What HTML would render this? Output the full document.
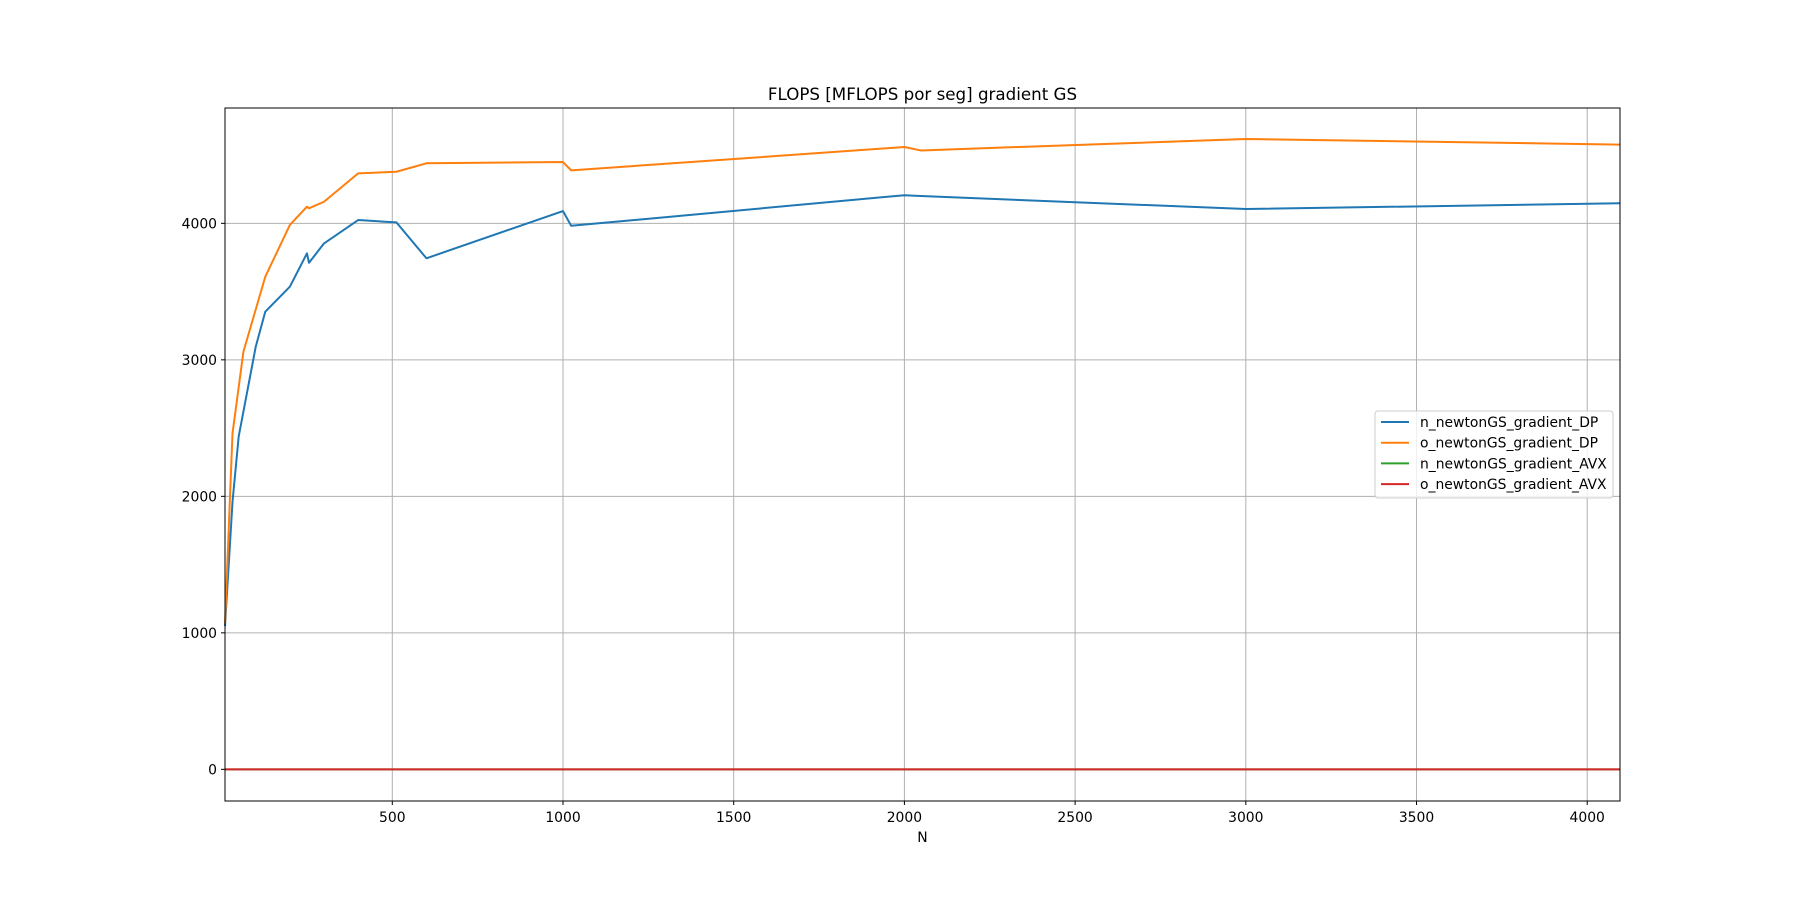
<!DOCTYPE html>
<html><head><meta charset="utf-8"><style>
body{margin:0;background:#fff}
svg text{font-family:"DejaVu Sans","Liberation Sans",sans-serif;fill:#000}
</style></head><body>
<svg id="chart" width="1800" height="900" xmlns="http://www.w3.org/2000/svg">
<rect width="1800" height="900" fill="#fff"/>
<g id="grid"></g>
<g id="series"></g>
<rect x="225" y="108" width="1395" height="693" fill="none" stroke="#000" stroke-width="1"/>
<g id="ticks"></g>
<text x="922.5" y="100" font-size="16.7" text-anchor="middle">FLOPS [MFLOPS por seg] gradient GS</text>
<text x="922.5" y="842" font-size="13.9" text-anchor="middle">N</text>
<g>
<rect x="1375" y="411" width="238" height="87" rx="3" fill="#fff" fill-opacity="0.8" stroke="#ccc"/>
<g id="legend-items"></g>
</g>
</svg>
<script>
const nN = [10,32,50,100,128,200,250,256,300,400,512,600,1000,1024,2000,2048,3000,4096];
const nDP = [1050,1960,2437,3096,3353,3536,3780,3711,3853,4024,4007,3744,4090,3982,4206,4200,4105,4147];
const oN = [10,32,50,64,100,128,200,250,256,300,400,512,600,1000,1024,2000,2048,3000,4096];
const oDP = [1071,2461,2798,3060,3369,3609,3988,4122,4110,4158,4366,4378,4440,4449,4388,4559,4534,4618,4577];
const avxN = [10,32,50,100,128,200,250,256,300,400,512,600,1000,1024,2000,2048,3000,4096];
const nAVX = [0,0,0,0,0,0,0,0,0,0,0,0,0,0,0,0,0,0];
const oAVX = [0,0,0,0,0,0,0,0,0,0,0,0,0,0,0,0,0,0];
const xTicks = [500,1000,1500,2000,2500,3000,3500,4000];
const yTicks = [0,1000,2000,3000,4000];
const seriesNames = ["n_newtonGS_gradient_DP","o_newtonGS_gradient_DP","n_newtonGS_gradient_AVX","o_newtonGS_gradient_AVX"];

const L=225,R=1620,T=108,B=801;
const xMin=10,xMax=4096,yMin=-232,yMax=4845;
const sx=v=>L+(v-xMin)/(xMax-xMin)*(R-L);
const sy=v=>B-(v-yMin)/(yMax-yMin)*(B-T);
const NS="http://www.w3.org/2000/svg";
function mk(tag,attrs,parent){const e=document.createElementNS(NS,tag);for(const k in attrs)e.setAttribute(k,attrs[k]);parent.appendChild(e);return e;}
const grid=document.getElementById('grid'),ticks=document.getElementById('ticks'),ser=document.getElementById('series');
xTicks.forEach(v=>{
  const g=mk('line',{x1:sx(v),x2:sx(v),y1:T,y2:B,stroke:'#b0b0b0','stroke-width':1},grid);
  
  
  const t=mk('line',{x1:sx(v),x2:sx(v),y1:B,y2:B+4,stroke:'#000'},ticks);
  
  
  const l=mk('text',{x:sx(v),y:B+21,'font-size':13.9,'text-anchor':'middle'},ticks);l.textContent=v;
  
  
});
yTicks.forEach(v=>{
  const g=mk('line',{x1:L,x2:R,y1:sy(v),y2:sy(v),stroke:'#b0b0b0','stroke-width':1},grid);
  
  
  const t=mk('line',{x1:L-4,x2:L,y1:sy(v),y2:sy(v),stroke:'#000'},ticks);
  
  
  const l=mk('text',{x:L-8,y:sy(v)+5,'font-size':13.9,'text-anchor':'end'},ticks);l.textContent=v;
  
  
});
const colors=['#1f77b4','#ff7f0e','#2ca02c','#d62728'];
const data=[[nN,nDP],[oN,oDP],[avxN,nAVX],[avxN,oAVX]];
const lineNames=['line-n-dp','line-o-dp','line-n-avx','line-o-avx'];
data.forEach((d,i)=>{
  const pts=d[0].map((x,j)=>sx(x).toFixed(2)+','+sy(d[1][j]).toFixed(2)).join(' ');
  const p=mk('polyline',{points:pts,fill:'none',stroke:colors[i],'stroke-width':2,'stroke-linejoin':'round'},ser);
  
  
});
const li=document.getElementById('legend-items');
seriesNames.forEach((n,i)=>{
  const y=422+i*20.7;
  const g=mk('g',{},li);
  
  
  mk('line',{x1:1381,x2:1409,y1:y,y2:y,stroke:colors[i],'stroke-width':2},g);
  const t=mk('text',{x:1420,y:y+5,'font-size':13.9},g);t.textContent=n;
});
</script>
</body></html>
